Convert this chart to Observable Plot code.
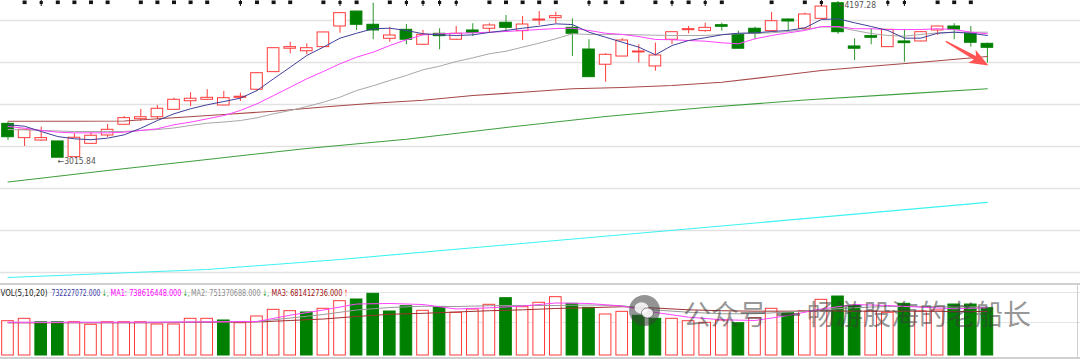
<!DOCTYPE html>
<html><head><meta charset="utf-8">
<script src="https://cdn.jsdelivr.net/npm/d3@7"></script>
<script src="https://cdn.jsdelivr.net/npm/@observablehq/plot@0.6"></script>
<style>
body{margin:0;background:#fff;}
#wrap{position:relative;width:1080px;height:359px;overflow:hidden;background:#fff;}
#wrap svg{display:block;}
.wm{position:absolute;font-family:"Noto Sans CJK SC";font-size:28px;color:rgba(60,60,60,0.55);line-height:1;white-space:nowrap;}
.bd{position:absolute;background:#d0d0d0;}
</style></head><body><div id="wrap"></div>
<script>
// ---- candles (price) ----
const opens  = [3272,3164,3146,3139,3020,3121,3184,3265,3307,3322,3378,3443,3454,3411,3469,3530,3663,3840,3821,3852,
                4008,4121,4021,3915,3983,3870,3953,3908,3978,3991,4036,3973,4053,4071,3998,3834,3719,3781,3812,3706,
                3908,3980,3973,4018,3948,3991,3973,4061,3991,4066,4184,3857,3935,3852,3895,3895,3978,4008,3953,3877];
const closes = [3171,3227,3164,3016,3167,3182,3227,3315,3322,3386,3454,3462,3469,3466,3477,3655,3844,3852,3844,3963,
                4109,4021,3978,3940,3908,3945,3935,3953,3960,4016,3998,4023,4061,4086,3953,3625,3794,3902,3819,3789,
                3965,3988,3998,4006,3840,3953,4048,4046,4099,4159,3965,3840,3923,3983,3882,3965,4008,3985,3885,3847];
const highs  = [3282,3229,3247,3140,3197,3214,3267,3328,3381,3411,3466,3507,3530,3517,3504,3657,3846,3889,3877,3965,
                4114,4123,4184,4003,4023,3978,3991,4008,4029,4029,4091,4084,4121,4116,4066,3908,3802,3915,3870,3882,
                3970,4008,4033,4033,3973,4003,4114,4066,4109,4190,4197.28,3915,3991,3985,3983,3970,4010,4029,4008,3882];
const lows   = [3146,3101,3140,3015.84,3018,3119,3169,3263,3292,3303,3376,3403,3449,3409,3441,3519,3660,3802,3794,3850,
                3957,3978,3908,3889,3870,3864,3832,3905,3932,3957,3978,3902,4016,4029,3781,3622,3587,3779,3731,3670,
                3872,3953,3965,3973,3838,3908,3970,3978,3988,4064,3948,3751,3870,3850,3738,3892,3940,3908,3852,3731];

// ---- price moving averages ----
const ma5  = [3265,3254,3214,3176,3159,3152,3164,3189,3239,3297,3348,3386,3416,3441,3466,3524,3613,3700,3789,3852,
              3920,3957,3991,3995,3978,3953,3945,3940,3945,3963,3978,3995,4010,4028,4023,3965,3927,3889,3852,3794,
              3864,3902,3923,3945,3957,3960,3970,3978,3998,4061,4066,4036,4008,3978,3920,3920,3957,3965,3957,3940];
const ma10 = [3252,3239,3222,3209,3204,3204,3204,3209,3222,3235,3265,3285,3310,3335,3373,3424,3486,3549,3613,3668,
              3726,3776,3814,3864,3908,3945,3953,3957,3960,3965,3970,3978,3985,3993,3995,3978,3957,3948,3932,3910,
              3908,3902,3897,3885,3877,3915,3940,3960,3978,4008,4008,3991,3991,3985,3985,3985,3991,3985,3965,3953];
const ma20 = [3229,3226,3222,3218,3214,3214,3214,3214,3222,3229,3241,3260,3277,3286,3297,3318,3348,3373,3403,3436,
              3474,3524,3560,3600,3638,3681,3708,3743,3771,3802,3821,3852,3882,3915,3953,3948,3948,3948,3945,3942,
              3940,3940,3940,3948,3953,3957,3960,3970,3985,4004,4004,3978,3955,3940,3935,3948,3960,3965,3965,3965];
const ma60Idx  = [0,4,7,10,13,16,19,22,25,28,31,34,37,40,43,46,49,52,55,59];
const ma60     = [3292,3292,3294,3318,3343,3367,3400,3428,3451,3486,3511,3537,3547,3562,3587,3630,3675,3708,3738,3781];
const ma120Idx = [0,6,12,18,24,30,36,42,48,54,59];
const ma120    = [2832,2919,3003,3086,3156,3245,3328,3396,3452,3499,3537];
const ma250Idx = [0,12,20,32,44,59];
const ma250    = [2110,2171,2247,2379,2511,2678];
const priceGrid = [4053,3736,3418,3101,2783,2466,2148];

// ---- volume ----
const volumes = [531,568,515,515,515,475,515,515,515,480,480,568,568,542,500,604,707,686,666,723,
                 841,867,955,681,763,692,748,661,712,785,887,748,816,903,800,738,635,676,615,568,
                 568,531,506,542,500,577,723,655,686,862,913,774,681,661,800,681,697,789,789,732.227072].map(v => v * 1e6);
const volUp   = [1,1,0,0,1,1,1,1,1,1,1,1,1,0,1,1,1,1,0,1,1,0,0,0,0,1,0,1,1,1,
                 0,1,1,1,0,0,1,1,0,0,1,1,1,1,0,1,1,0,1,1,0,0,1,1,0,1,1,0,0,0];
const vmaIdx = [0,8,15,17,19,21,23,25,27,29,31,33,35,37,39,41,43,45,47,49,51,53,55,57,59];
const vma5   = [515,515,526,624,704,797,805,789,720,738,766,813,805,766,666,593,553,542,619,720,789,774,748,723,738.616448].map(v => v * 1e6);
const vma10  = [511,511,526,580,635,704,743,763,758,771,774,774,782,771,704,670,646,646,673,707,740,759,759,751,751.370688].map(v => v * 1e6);
const vma20  = [506,506,519,542,565,604,638,653,673,693,707,728,740,755,735,707,693,686,686,692,686,686,686,681,681.412736].map(v => v * 1e6);
const volGrid = [975e6, 511e6];

// ---- top event markers ----
const markSquare = [1,3,4,5,6,8,9,10,11,12,15,16,17,19,21,23,29,30,31,32,33,36,37,39,41,43,46,48,56,57,58];
const markTall   = [2,14,20,24,25,26,27,35,40,42,49,53,54];

// ---- annotation arrow (tip in data units) ----
const arrowTip = [{i: 59.06, price: 3713}];

const legendParts = [
  {t: "VOL(5,10,20)", c: "#222", x: 0, w: 47},
  {t: "732227072.000", c: "#3a3aa8", x: 51, w: 49},
  {t: "\u2193,", c: "#1a9a1a", x: 101.5, w: 6.5},
  {t: "MA1: 738616448.000", c: "#ff00ff", x: 110, w: 71},
  {t: "\u2193,", c: "#1a9a1a", x: 182.5, w: 6.5},
  {t: "MA2: 751370688.000", c: "#8c8c8c", x: 190.5, w: 69.5},
  {t: "\u2193,", c: "#1a9a1a", x: 262, w: 6.5},
  {t: "MA3: 681412736.000", c: "#a01010", x: 271, w: 71},
  {t: "\u2191", c: "#ff3030", x: 343.5, w: 4}
];
const legendText = legendParts.map(p => p.t).join(" ");

// ---- build ----
const RED = "#ff3a3a", GREEN = "#008000", WICKG = "#2c962c";
const xDomain = [-0.452, 64.608];
const priceDomain = [2065, 4204.6];
const N = opens.length;
const candles = d3.range(N).map(i => ({i, open: opens[i], close: closes[i], high: highs[i], low: lows[i], up: closes[i] >= opens[i]}));
const pts = (idx, vals) => idx.map((i, k) => ({i, v: vals[k]}));
const full = vals => vals.map((v, i) => ({i, v}));
const vols = volumes.map((v, i) => ({i, v, up: volUp[i] === 1}));
const iLow = d3.minIndex(lows), iHigh = d3.maxIndex(highs);
const narrow = "'DejaVu Sans Condensed','DejaVu Sans',sans-serif";

const sqSym = {draw(ctx) { ctx.rect(-2, -2, 4, 3.6); }};
const tallSym = {draw(ctx) { ctx.rect(-1.6, -1.4, 3.2, 3); ctx.rect(-0.5, -3, 1, 6.5); }};
const arrowSym = {draw(ctx) {
  ctx.moveTo(0, 0); ctx.lineTo(7.5, 19); ctx.lineTo(2.2, 15.5); ctx.lineTo(0.7, 49);
  ctx.lineTo(-0.7, 49); ctx.lineTo(-2.2, 15.5); ctx.lineTo(-7.5, 19); ctx.closePath();
}};

const main = Plot.plot({
  width: 1080, height: 283, margin: 0,
  x: {domain: xDomain, axis: null},
  y: {domain: priceDomain, axis: null},
  style: {background: "#fff", display: "block", overflow: "visible"},
  marks: [
    Plot.ruleY(priceGrid, {stroke: "#e2e2e2", strokeWidth: 1.5}),
    Plot.ruleX(candles, {x: "i", y1: "low", y2: "high", stroke: d => d.up ? RED : WICKG}),
    Plot.rect(candles, {x1: d => d.i - 0.35, x2: d => d.i + 0.35,
      y1: d => Math.min(d.open, d.close), y2: d => Math.max(d.open, d.close),
      fill: d => d.up ? "#fff" : GREEN, stroke: d => d.up ? RED : GREEN, strokeWidth: 1}),
    Plot.line(pts(ma250Idx, ma250), {x: "i", y: "v", stroke: "#3ef2f2", strokeWidth: 1.1}),
    Plot.line(pts(ma120Idx, ma120), {x: "i", y: "v", stroke: "#3f9f3f", strokeWidth: 1.1}),
    Plot.line(pts(ma60Idx, ma60), {x: "i", y: "v", stroke: "#a84848", strokeWidth: 1.1}),
    Plot.line(full(ma20), {x: "i", y: "v", stroke: "#a8a8a8", strokeWidth: 1}),
    Plot.line(full(ma10), {x: "i", y: "v", stroke: "#ff44ff", strokeWidth: 1}),
    Plot.line(full(ma5), {x: "i", y: "v", stroke: "#40409a", strokeWidth: 1}),
    Plot.dot(markSquare, {x: d => d, y: () => priceDomain[1], dy: 2, symbol: sqSym, fill: "#151515", stroke: null, r: 2}),
    Plot.dot(markTall, {x: d => d, y: () => priceDomain[1], dy: 2, symbol: tallSym, fill: "#151515", stroke: null, r: 2}),
    Plot.text([iLow], {x: d => d, y: d => lows[d], text: d => "\u2190" + lows[d].toFixed(2), textAnchor: "start", dy: 3.5, fontSize: 9, fill: "#555", fontFamily: narrow}),
    Plot.text([iHigh], {x: d => d, y: d => highs[d], text: d => "\u2190" + highs[d].toFixed(2), textAnchor: "start", dy: 4, fontSize: 9, fill: "#555", fontFamily: narrow}),
    Plot.dot(arrowTip, {x: "i", y: "price", symbol: arrowSym, rotate: 119.5, fill: "#ff5454", stroke: null, r: 5})
  ]
});

const volPlot = Plot.plot({
  width: 1080, height: 76, marginTop: 0, marginBottom: 4, marginLeft: 0, marginRight: 0,
  x: {domain: xDomain, axis: null},
  y: {domain: [0, 1114.6e6], axis: null},
  style: {background: "#fff", display: "block"},
  marks: [
    Plot.ruleY(volGrid, {stroke: "#e4e4e4", strokeWidth: 1.2}),
    Plot.rect(vols, {x1: d => d.i - 0.35, x2: d => d.i + 0.35, y1: 0, y2: "v",
      fill: d => d.up ? "#fff" : GREEN, stroke: d => d.up ? RED : GREEN, strokeWidth: 1}),
    Plot.line(pts(vmaIdx, vma20), {x: "i", y: "v", stroke: "#a03030", strokeWidth: 1}),
    Plot.line(pts(vmaIdx, vma10), {x: "i", y: "v", stroke: "#9a9a9a", strokeWidth: 1}),
    Plot.line(pts(vmaIdx, vma5), {x: "i", y: "v", stroke: "#ff44ff", strokeWidth: 1}),
    Plot.text([legendText], {frameAnchor: "top-left", dy: 6, text: d => d, fill: "#222",
      fontSize: 9, fontFamily: narrow, textAnchor: "start"})
  ]
});

// split the legend line into coloured pieces placed as in the reference
volPlot.querySelectorAll("text").forEach(t => {
  if (t.textContent !== legendText) return;
  t.textContent = "";
  legendParts.forEach(p => {
    const s = document.createElementNS("http://www.w3.org/2000/svg", "tspan");
    s.setAttribute("x", p.x);
    s.setAttribute("fill", p.c);
    s.setAttribute("textLength", p.w);
    s.setAttribute("lengthAdjust", "spacingAndGlyphs");
    s.textContent = p.t;
    t.appendChild(s);
  });
});
main.querySelectorAll("text").forEach(t => {
  if (t.textContent.startsWith("\u2190")) { t.setAttribute("textLength", 38); t.setAttribute("lengthAdjust", "spacingAndGlyphs"); }
});

const wrap = document.getElementById("wrap");
wrap.appendChild(main);
wrap.appendChild(volPlot);

// panel borders
[[0, 283, 1080, 2], [0, 357, 1080, 2], [1077, 283, 1, 76]].forEach(([l, t, w, h]) => {
  const d = document.createElement("div");
  d.className = "bd";
  d.style.cssText = `left:${l}px;top:${t}px;width:${w}px;height:${h}px;`;
  wrap.appendChild(d);
});

// watermark
const icon = document.createElement("div");
icon.style.cssText = "position:absolute;left:629px;top:295px;width:31px;height:31px;";
icon.innerHTML = `<svg width="31" height="31" viewBox="0 0 31 31"><circle cx="15.5" cy="15.5" r="15.5" fill="rgba(60,60,60,0.55)"/>
<ellipse cx="12.5" cy="13" rx="7" ry="5.8" fill="rgba(255,255,255,0.85)"/>
<ellipse cx="18.5" cy="18" rx="6" ry="5" fill="rgba(255,255,255,0.85)" stroke="rgba(60,60,60,0.55)" stroke-width="1"/></svg>`;
wrap.appendChild(icon);
const w1 = document.createElement("div"); w1.className = "wm"; w1.textContent = "公众号";
w1.style.left = "683px"; w1.style.top = "299px"; wrap.appendChild(w1);
const dash = document.createElement("div");
dash.style.cssText = "position:absolute;left:777px;top:313px;width:23px;height:2.5px;background:rgba(60,60,60,0.55);";
wrap.appendChild(dash);
const w2 = document.createElement("div"); w2.className = "wm"; w2.textContent = "畅游股海的老船长";
w2.style.left = "807px"; w2.style.top = "299px"; wrap.appendChild(w2);
</script></body></html>
